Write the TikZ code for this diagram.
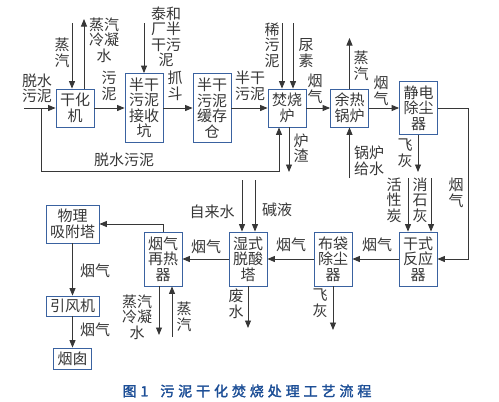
\documentclass[tikz,border=0pt]{standalone}
\usepackage{fontspec}
\setmainfont{Noto Sans CJK SC}
\newfontfamily\capfont[FakeBold=2,LetterSpace=28]{Noto Sans CJK SC}
\usetikzlibrary{arrows.meta}
\definecolor{boxblue}{RGB}{58,98,160}
\definecolor{inkgray}{RGB}{55,55,55}
\definecolor{capblue}{RGB}{28,78,150}

\begin{document}
\begin{tikzpicture}[x=1pt, y=-1pt,
  every node/.style={text=inkgray, font=\fontsize{15}{15.5}\selectfont, inner sep=0pt, align=center},
  box/.style={draw=boxblue, line width=0.8pt, fill=white, minimum width=38pt},
  flow/.style={draw=inkgray, line width=0.9pt, -{Triangle[length=7.5pt,width=6pt]}},
]
\useasboundingbox (0,0) rectangle (499,402);

% boxes, top row
\node[box, minimum height=38pt] (dryer) at (75,108) {干化\\机};
\node[box, minimum height=69pt] (pit) at (144,108) {半干\\污泥\\接收\\坑};
\node[box, minimum height=69pt] (silo) at (212,108) {半干\\污泥\\缓存\\仓};
\node[box, minimum height=38pt] (furnace) at (287,108) {焚烧\\炉};
\node[box, minimum height=38pt] (boiler) at (349.5,108) {余热\\锅炉};
\node[box, minimum height=53pt] (esp) at (418.5,108) {静电\\除尘\\器};
% boxes, bottom row
\node[box, minimum height=54pt] (dryreact) at (418,259) {干式\\反应\\器};
\node[box, minimum height=54pt] (bag) at (333,259) {布袋\\除尘\\器};
\node[box, minimum height=54pt] (wet) at (248,259) {湿式\\脱酸\\塔};
\node[box, minimum height=54pt] (reheat) at (163,259) {烟气\\再热\\器};
\node[box, minimum width=53pt, minimum height=38pt] (adsorb) at (72.5,224) {物理\\吸附塔};
\node[box, minimum width=53pt, minimum height=20pt] (fan) at (72.5,306) {引风机};
\node[box, minimum height=21pt] (chimney) at (72.5,358.5) {烟囱};

% free ends
\coordinate (sludgeIn) at (24,108);
\coordinate (split) at (41,108);
\coordinate (retc) at (279,171);
\coordinate (steamA) at (72,23);
\coordinate (condA) at (84,19);
\coordinate (taihe) at (144,23);
\coordinate (thin) at (282,23);
\coordinate (urea) at (293,23);
\coordinate (slag) at (289,172);
\coordinate (steamB) at (349.5,38);
\coordinate (feedw) at (349.5,178);
\coordinate (gasR) at (468,108);
\coordinate (ashA) at (418,172);
\coordinate (carbon) at (408,178);
\coordinate (lime) at (431,178);
\coordinate (ashB) at (333,330);
\coordinate (tapw) at (242,180);
\coordinate (lye) at (255,180);
\coordinate (wastew) at (248,328);
\coordinate (condB) at (159,335);
\coordinate (steamC) at (172,337);

% main line
\draw[flow] (sludgeIn) -- (dryer);
\draw[flow] (split) |- (retc) -- (retc |- furnace.south);
\draw[flow] (dryer) -- (pit);
\draw[flow] (pit) -- (silo);
\draw[flow] (silo) -- (furnace);
\draw[flow] (furnace) -- (boiler);
\draw[flow] (boiler) -- (esp);
\draw[flow] (esp) -- (gasR) |- (dryreact);
\draw[flow] (dryreact) -- (bag);
\draw[flow] (bag) -- (wet);
\draw[flow] (wet) -- (reheat);
\draw[flow] (reheat.north) |- (adsorb);
\draw[flow] (adsorb) -- (fan);
\draw[flow] (fan) -- (chimney);

% side streams
\draw[flow] (steamA) -- (steamA |- dryer.north);
\draw[flow] (condA |- dryer.north) -- (condA);
\draw[flow] (taihe) -- (taihe |- pit.north);
\draw[flow] (thin) -- (thin |- furnace.north);
\draw[flow] (urea) -- (urea |- furnace.north);
\draw[flow] (slag |- furnace.south) -- (slag);
\draw[flow] (steamB |- boiler.north) -- (steamB);
\draw[flow] (feedw) -- (feedw |- boiler.south);
\draw[flow] (ashA |- esp.south) -- (ashA);
\draw[flow] (carbon) -- (carbon |- dryreact.north);
\draw[flow] (lime) -- (lime |- dryreact.north);
\draw[flow] (ashB |- bag.south) -- (ashB);
\draw[flow] (tapw) -- (tapw |- wet.north);
\draw[flow] (lye) -- (lye |- wet.north);
\draw[flow] (wastew |- wet.south) -- (wastew);
\draw[flow] (condB |- reheat.south) -- (condB);
\draw[flow] (steamC) -- (steamC |- reheat.south);

% labels
\node (lDewIn) at (37,88.5) {脱水\\污泥};
\node (lSteamA) at (62,53) {蒸\\汽};
\node (lCondA) at (104,40) {蒸汽\\冷凝\\水};
\node (lSludgeA) at (109,86) {污\\泥};
\node (lTaihe) at (166,37) {泰和\\厂半\\干污\\泥};
\node (lGrab) at (175,86) {抓\\斗};
\node (lSemi) at (250,86) {半干\\污泥};
\node (lThin) at (272,45) {稀\\污\\泥};
\node (lUrea) at (306,53) {尿\\素};
\node (lGasA) at (315,89) {烟\\气};
\node (lSteamB) at (361,66) {蒸\\汽};
\node (lGasB) at (381,91) {烟\\气};
\node (lSlag) at (301,148) {炉\\渣};
\node (lFeed) at (369,161) {锅炉\\给水};
\node (lDewBack) at (124,160) {脱水污泥};
\node (lAshA) at (405,153) {飞\\灰};
\node (lCarbon) at (394,200) {活\\性\\炭};
\node (lLime) at (420,200) {消\\石\\灰};
\node (lGasC) at (456,193) {烟\\气};
\node (lGasD) at (377,245) {烟气};
\node (lAshB) at (320,303) {飞\\灰};
\node (lGasE) at (291,245) {烟气};
\node (lLye) at (277,210) {碱液};
\node (lTap) at (212,212) {自来水};
\node (lWaste) at (236,304) {废\\水};
\node (lGasF) at (206,247) {烟气};
\node (lCondB) at (137,317) {蒸汽\\冷凝\\水};
\node (lSteamC) at (184,317) {蒸\\汽};
\node (lGasG) at (95,271) {烟气};
\node (lGasH) at (95,330) {烟气};

% caption
\node[text=capblue, font=\capfont\fontsize{14}{16}\selectfont] (caption) at (247,391) {图1\hspace{12pt}污泥干化焚烧处理工艺流程};
\end{tikzpicture}
\end{document}
